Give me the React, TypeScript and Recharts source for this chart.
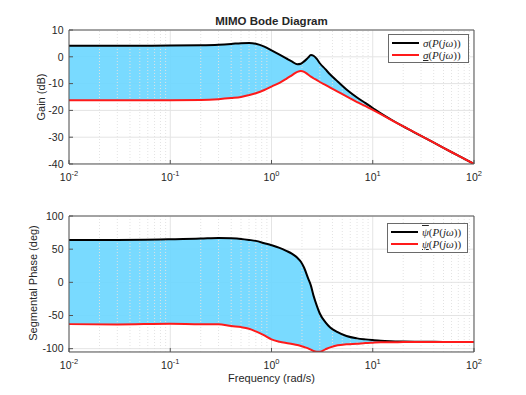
import {
  ComposedChart,
  Area,
  Line,
  XAxis,
  YAxis,
  CartesianGrid,
  ReferenceLine,
} from 'recharts';

// frequency grid (rad/s), shared by both panels
const freq = [
  0.01, 0.03, 0.1, 0.2, 0.3, 0.4, 0.5, 0.6, 0.7, 0.85, 1, 1.2, 1.4, 1.6, 1.8, 1.95, 2.1, 2.3,
  2.45, 2.6, 2.8, 3.0, 3.4, 3.8, 4.5, 5.5, 7, 8.5, 10, 12, 15, 20, 30, 50, 70, 100,
];

// gain (dB): max / min singular values
const gainUpper = [
  4.1, 4.1, 4.2, 4.3, 4.5, 4.8, 5.1, 5.2, 4.9, 3.8, 2.4, 0.8, -0.6, -1.8, -2.8, -2.6, -1.7, -0.3,
  0.7, 0.4, -0.8, -2.4, -4.6, -6.6, -9.2, -12.2, -15.2, -17.3, -19.1, -21.1, -23.3, -26, -29.5,
  -34, -36.9, -40,
];
const gainLower = [
  -16.2, -16.2, -16.2, -16.1, -15.8, -15.4, -15, -14.3, -13.6, -12.4, -11.1, -9.7, -8.2, -6.8,
  -5.6, -5.3, -5.6, -6.6, -7.4, -8, -8.7, -9.4, -10.5, -11.5, -13, -14.8, -16.9, -18.4, -19.8,
  -21.4, -23.4, -26, -29.5, -34, -36.9, -40,
];

// segmental phase (deg): upper / lower
const phaseUpper = [
  64, 64, 65, 66, 67, 66.5, 65.5, 64, 62.5, 59, 56, 52, 47.5, 43, 37, 31, 22, 6, -5, -20, -35,
  -47, -60, -68, -75, -81, -84.5, -86, -87, -88, -88.7, -89.2, -89.6, -89.8, -90, -90,
];
const phaseLower = [
  -63, -63.5, -62.5, -63, -63, -66, -67.5, -70, -74, -80, -86, -89.5, -91.5, -93, -94.5, -96,
  -97.5, -99.5, -101.5, -103.5, -104.5, -104.5, -101, -98, -95, -93.5, -92.5, -91.5, -91, -90.5,
  -90.3, -90.1, -90, -90, -90, -90,
];

const freqTicks = [0.01, 0.1, 1, 10, 100];
const minorFreqs = [
  0.02, 0.03, 0.04, 0.05, 0.06, 0.07, 0.08, 0.09,
  0.2, 0.3, 0.4, 0.5, 0.6, 0.7, 0.8, 0.9,
  2, 3, 4, 5, 6, 7, 8, 9,
  20, 30, 40, 50, 60, 70, 80, 90,
];
const gainTicks = [-40, -30, -20, -10, 0, 10];
const phaseTicks = [-100, -50, 0, 50, 100];

const gainRows = freq.map((f, i) => ({
  f,
  upper: gainUpper[i],
  lower: gainLower[i],
  band: [gainLower[i], gainUpper[i]],
}));
const phaseRows = freq.map((f, i) => ({
  f,
  upper: phaseUpper[i],
  lower: phaseLower[i],
  band: [phaseLower[i], phaseUpper[i]],
}));

const FONT = '"Liberation Sans", Arial, Helvetica, sans-serif';
const MATH = '"Liberation Serif", "DejaVu Serif", serif';
const TXT = '#262626';
const AX = '#555555';
// axes need a non-zero size to be drawn; keep it tiny so they sit on the plot edge
const THIN = 0.01;

function LogTick(props: any) {
  const { x, y, payload } = props;
  const exp = Math.round(Math.log10(payload.value));
  return (
    <text x={x} y={y + 9} textAnchor="middle" fill={TXT} fontSize={10.5} fontFamily={FONT}>
      <tspan>10</tspan>
      <tspan dy={-5} fontSize={7.5}>
        {exp}
      </tspan>
    </text>
  );
}

function BodePanel({
  data,
  domain,
  yTicks,
  height,
  top,
  bottom,
}: {
  data: any[];
  domain: [number, number];
  yTicks: number[];
  height: number;
  top: number;
  bottom: number;
}) {
  return (
    <ComposedChart
      width={526}
      height={height}
      data={data}
      margin={{ top, right: 52, bottom, left: 69 }}
    >
      <CartesianGrid stroke="#e4e4e4" />
      {minorFreqs.map((m) => (
        <ReferenceLine key={m} x={m} stroke="#e2e2e2" strokeDasharray="1 2" />
      ))}
      <XAxis
        dataKey="f"
        type="number"
        scale="log"
        domain={[0.01, 100]}
        allowDataOverflow
        ticks={freqTicks}
        interval={0}
        height={THIN}
        tickSize={-4}
        tickMargin={12}
        tick={<LogTick />}
        axisLine={{ stroke: AX }}
        tickLine={{ stroke: AX }}
      />
      <XAxis
        xAxisId="top"
        orientation="top"
        dataKey="f"
        type="number"
        scale="log"
        domain={[0.01, 100]}
        allowDataOverflow
        ticks={freqTicks}
        interval={0}
        height={THIN}
        tickSize={-4}
        tick={false}
        axisLine={{ stroke: AX }}
        tickLine={{ stroke: AX }}
      />
      <XAxis
        xAxisId="minorB"
        dataKey="f"
        type="number"
        scale="log"
        domain={[0.01, 100]}
        allowDataOverflow
        ticks={minorFreqs}
        interval={0}
        height={THIN}
        tickSize={-2}
        tick={false}
        axisLine={false}
        tickLine={{ stroke: AX }}
      />
      <XAxis
        xAxisId="minorT"
        orientation="top"
        dataKey="f"
        type="number"
        scale="log"
        domain={[0.01, 100]}
        allowDataOverflow
        ticks={minorFreqs}
        interval={0}
        height={THIN}
        tickSize={-2}
        tick={false}
        axisLine={false}
        tickLine={{ stroke: AX }}
      />
      <YAxis
        type="number"
        domain={domain}
        allowDataOverflow
        ticks={yTicks}
        interval={0}
        width={THIN}
        tickSize={-4}
        tickMargin={9.5}
        tick={{ fill: TXT, fontSize: 10.5, fontFamily: FONT }}
        axisLine={{ stroke: AX }}
        tickLine={{ stroke: AX }}
      />
      <YAxis
        yAxisId="right"
        orientation="right"
        type="number"
        domain={domain}
        allowDataOverflow
        ticks={yTicks}
        interval={0}
        width={THIN}
        tickSize={-4}
        tick={false}
        axisLine={{ stroke: AX }}
        tickLine={{ stroke: AX }}
      />
      <Area
        dataKey="band"
        type="monotone"
        stroke="none"
        fill="#6ad6ff"
        fillOpacity={0.9}
        isAnimationActive={false}
      />
      <Line
        dataKey="upper"
        type="monotone"
        stroke="#000000"
        strokeWidth={2}
        dot={false}
        isAnimationActive={false}
      />
      <Line
        dataKey="lower"
        type="monotone"
        stroke="#ff1a1a"
        strokeWidth={2}
        dot={false}
        isAnimationActive={false}
      />
    </ComposedChart>
  );
}

function LegendBox({
  left,
  top,
  height,
  rows,
}: {
  left: number;
  top: number;
  height: number;
  rows: { color: string; label: any }[];
}) {
  return (
    <div
      style={{
        position: 'absolute',
        left,
        top,
        width: 81,
        height,
        boxSizing: 'border-box',
        border: '1px solid #6a6a6a',
        background: '#ffffff',
      }}
    >
      {rows.map((r, i) => (
        <div
          key={i}
          style={{
            position: 'absolute',
            left: 3,
            top: 2 + i * 12,
            height: 12,
            display: 'flex',
            alignItems: 'center',
            whiteSpace: 'nowrap',
          }}
        >
          <div style={{ width: 27, height: 2, background: r.color, marginRight: 4 }} />
          <span style={{ fontFamily: MATH, fontSize: 11, color: TXT }}>{r.label}</span>
        </div>
      ))}
    </div>
  );
}

const sigmaUpper = (
  <>
    <i>σ</i>(<i>P</i>(<i>jω</i>))
  </>
);
const sigmaLower = (
  <>
    <i style={{ textDecoration: 'underline' }}>σ</i>(<i>P</i>(<i>jω</i>))
  </>
);
const psiUpper = (
  <>
    <i style={{ textDecoration: 'overline' }}>ψ</i>(<i>P</i>(<i>jω</i>))
  </>
);
const psiLower = (
  <>
    <i style={{ textDecoration: 'underline' }}>ψ</i>(<i>P</i>(<i>jω</i>))
  </>
);

export default function App() {
  return (
    <div
      style={{
        position: 'absolute',
        left: 0,
        top: 0,
        width: 526,
        height: 395,
        background: '#ffffff',
        fontFamily: FONT,
        color: TXT,
      }}
    >
      <div style={{ position: 'absolute', left: 0, top: 0 }}>
        <BodePanel data={gainRows} domain={[-40, 10]} yTicks={gainTicks} height={200} top={30} bottom={36} />
      </div>
      <div style={{ position: 'absolute', left: 0, top: 200 }}>
        <BodePanel data={phaseRows} domain={[-105, 100]} yTicks={phaseTicks} height={195} top={16} bottom={43} />
      </div>

      <div
        style={{
          position: 'absolute',
          left: 69,
          width: 405,
          top: 15,
          textAlign: 'center',
          fontWeight: 'bold',
          fontSize: 11.5,
        }}
      >
        MIMO Bode Diagram
      </div>

      <div
        style={{
          position: 'absolute',
          left: 41,
          top: 97,
          transform: 'translate(-50%, -50%) rotate(-90deg)',
          fontSize: 11,
          whiteSpace: 'nowrap',
        }}
      >
        Gain (dB)
      </div>
      <div
        style={{
          position: 'absolute',
          left: 33,
          top: 283,
          transform: 'translate(-50%, -50%) rotate(-90deg)',
          fontSize: 11,
          whiteSpace: 'nowrap',
        }}
      >
        Segmental Phase (deg)
      </div>
      <div
        style={{
          position: 'absolute',
          left: 69,
          width: 405,
          top: 372,
          textAlign: 'center',
          fontSize: 11,
        }}
      >
        Frequency (rad/s)
      </div>

      <LegendBox
        left={388}
        top={34}
        height={29}
        rows={[
          { color: '#000000', label: sigmaUpper },
          { color: '#ff1a1a', label: sigmaLower },
        ]}
      />
      <LegendBox
        left={387}
        top={223}
        height={30}
        rows={[
          { color: '#000000', label: psiUpper },
          { color: '#ff1a1a', label: psiLower },
        ]}
      />
    </div>
  );
}
